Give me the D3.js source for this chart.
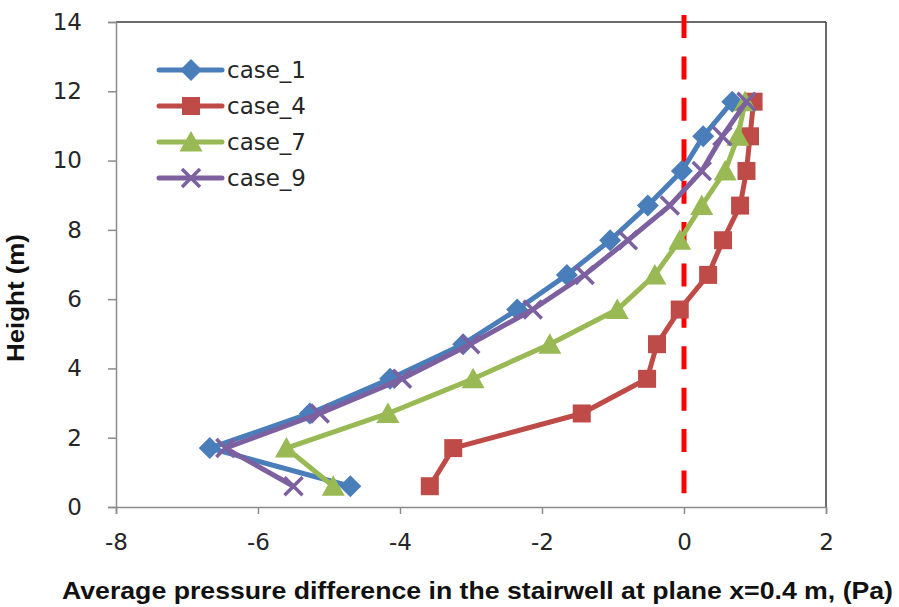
<!DOCTYPE html>
<html>
<head>
<meta charset="utf-8">
<script src="https://cdn.jsdelivr.net/npm/d3@7"></script>
<style>
  body { margin: 0; background: #fff; }
  svg { display: block; }
</style>
</head>
<body>
<div id="chart"></div>
<script>
// heights of the measurement planes (m)
const heights = [0.6, 1.7, 2.7, 3.7, 4.7, 5.7, 6.7, 7.7, 8.7, 9.7, 10.7, 11.7];

// average pressure difference (Pa) per case, same order as heights
const case1 = [-4.70, -6.68, -5.27, -4.14, -3.11, -2.35, -1.65, -1.04, -0.51, -0.03, 0.27, 0.68];
const case4 = [-3.58, -3.25, -1.44, -0.52, -0.38, -0.06, 0.34, 0.55, 0.79, 0.88, 0.93, 0.98];
const case7 = [-4.94, -5.60, -4.17, -2.97, -1.89, -0.94, -0.41, -0.06, 0.25, 0.58, 0.76, 0.86];
const case9 = [-5.50, -6.46, -5.13, -3.97, -3.01, -2.13, -1.40, -0.79, -0.20, 0.25, 0.54, 0.88];

const seriesNames = ['case_1', 'case_4', 'case_7', 'case_9'];
const xTicks = [-8, -6, -4, -2, 0, 2];
const yTicks = [0, 2, 4, 6, 8, 10, 12, 14];

// vertical reference line at x = 0
const refX = 0;
const refY = [14.2, 0.4];

const width = 899;
const height = 607;
const plotLeft = 116, plotRight = 826, plotTop = 22, plotBottom = 507;

const colors = ['#4A7EBB', '#BE4B48', '#98B954', '#7D60A0'];
const shapes = ['diamond', 'square', 'triangle', 'cross'];

const series = [case1, case4, case7, case9].map((vals, i) => ({
  name: seriesNames[i],
  color: colors[i],
  shape: shapes[i],
  points: vals.map((v, j) => ({ x: v, y: heights[j] })),
}));

const x = d3.scaleLinear().domain([-8, 2]).range([plotLeft, plotRight]);
const y = d3.scaleLinear().domain([0, 14]).range([plotBottom, plotTop]);

const svg = d3.select('#chart')
  .append('svg')
  .attr('width', width)
  .attr('height', height);

const tickFont = 'DejaVu Sans, sans-serif';
const titleFont = 'Liberation Sans, Arial, sans-serif';

// marker path centered at 0,0
function markerPath(shape) {
  if (shape === 'diamond') return 'M0,-11L11,0L0,11L-11,0Z';
  if (shape === 'square') return 'M-9,-9H9V9H-9Z';
  if (shape === 'triangle') return 'M0,-11L11.5,9.5L-11.5,9.5Z';
  return 'M-9,-9L9,9M-9,9L9,-9';
}

function drawMarker(g, shape, color) {
  const p = g.append('path').attr('d', markerPath(shape));
  if (shape === 'cross') {
    p.attr('fill', 'none').attr('stroke', color).attr('stroke-width', 3.5);
  } else {
    p.attr('fill', color);
  }
}

// frame: top and right borders
svg.append('line')
  .attr('x1', plotLeft).attr('x2', plotRight).attr('y1', plotTop).attr('y2', plotTop)
  .attr('stroke', '#3a3a3a').attr('stroke-width', 1.5);
svg.append('line')
  .attr('x1', plotRight).attr('x2', plotRight).attr('y1', plotTop).attr('y2', plotBottom)
  .attr('stroke', '#3a3a3a').attr('stroke-width', 1.5);

// x axis
const xAxis = svg.append('g')
  .attr('transform', `translate(0,${plotBottom})`)
  .call(d3.axisBottom(x).tickValues(xTicks).tickSize(7).tickPadding(20).tickFormat(d => String(d)));
xAxis.select('.domain').attr('stroke', '#8c8c8c').attr('stroke-width', 1.5);
xAxis.selectAll('.tick line').attr('stroke', '#8c8c8c').attr('stroke-width', 1.5);
xAxis.selectAll('.tick text')
  .attr('font-family', tickFont).attr('font-size', 23).attr('fill', '#262626');

// y axis
const yAxis = svg.append('g')
  .attr('transform', `translate(${plotLeft},0)`)
  .call(d3.axisLeft(y).tickValues(yTicks).tickSize(8).tickPadding(26).tickFormat(d => String(d)));
yAxis.select('.domain').attr('stroke', '#8c8c8c').attr('stroke-width', 1.5);
yAxis.selectAll('.tick line').attr('stroke', '#8c8c8c').attr('stroke-width', 1.5);
yAxis.selectAll('.tick text')
  .attr('font-family', tickFont).attr('font-size', 23).attr('fill', '#262626');

// red dashed reference line
svg.append('line')
  .attr('x1', x(refX)).attr('x2', x(refX))
  .attr('y1', y(refY[0])).attr('y2', y(refY[1]))
  .attr('stroke', '#FF0000').attr('stroke-width', 5)
  .attr('stroke-dasharray', '23,18.4');

// series lines + markers
const line = d3.line().x(d => x(d.x)).y(d => y(d.y));

series.forEach((s) => {
  const g = svg.append('g');
  g.append('path')
    .datum(s.points)
    .attr('d', line)
    .attr('fill', 'none')
    .attr('stroke', s.color)
    .attr('stroke-width', 5)
    .attr('stroke-linejoin', 'round');
  s.points.forEach((p) => {
    const m = g.append('g').attr('transform', `translate(${x(p.x)},${y(p.y)})`);
    drawMarker(m, s.shape, s.color);
  });
});

// legend
const legendY = [70, 106, 142, 178];
series.forEach((s, i) => {
  const g = svg.append('g').attr('transform', `translate(0,${legendY[i]})`);
  g.append('line')
    .attr('x1', 159).attr('x2', 222).attr('y1', 0).attr('y2', 0)
    .attr('stroke', s.color).attr('stroke-width', 5).attr('stroke-linecap', 'round');
  const m = g.append('g').attr('transform', 'translate(191,0)');
  drawMarker(m, s.shape, s.color);
  g.append('text')
    .attr('x', 227).attr('y', 8)
    .attr('font-family', tickFont).attr('font-size', 23).attr('fill', '#262626')
    .text(s.name);
});

// axis titles
svg.append('text')
  .attr('x', 477.5).attr('y', 599)
  .attr('text-anchor', 'middle')
  .attr('font-family', titleFont)
  .attr('font-weight', 'bold').attr('font-size', 24).attr('fill', '#111')
  .attr('textLength', 831).attr('lengthAdjust', 'spacingAndGlyphs')
  .text('Average pressure difference in the stairwell at plane x=0.4 m, (Pa)');

svg.append('text')
  .attr('transform', 'translate(24,298) rotate(-90)')
  .attr('text-anchor', 'middle')
  .attr('font-family', titleFont)
  .attr('font-weight', 'bold').attr('font-size', 24).attr('fill', '#111')
  .attr('textLength', 128).attr('lengthAdjust', 'spacingAndGlyphs')
  .text('Height (m)');
</script>
</body>
</html>
